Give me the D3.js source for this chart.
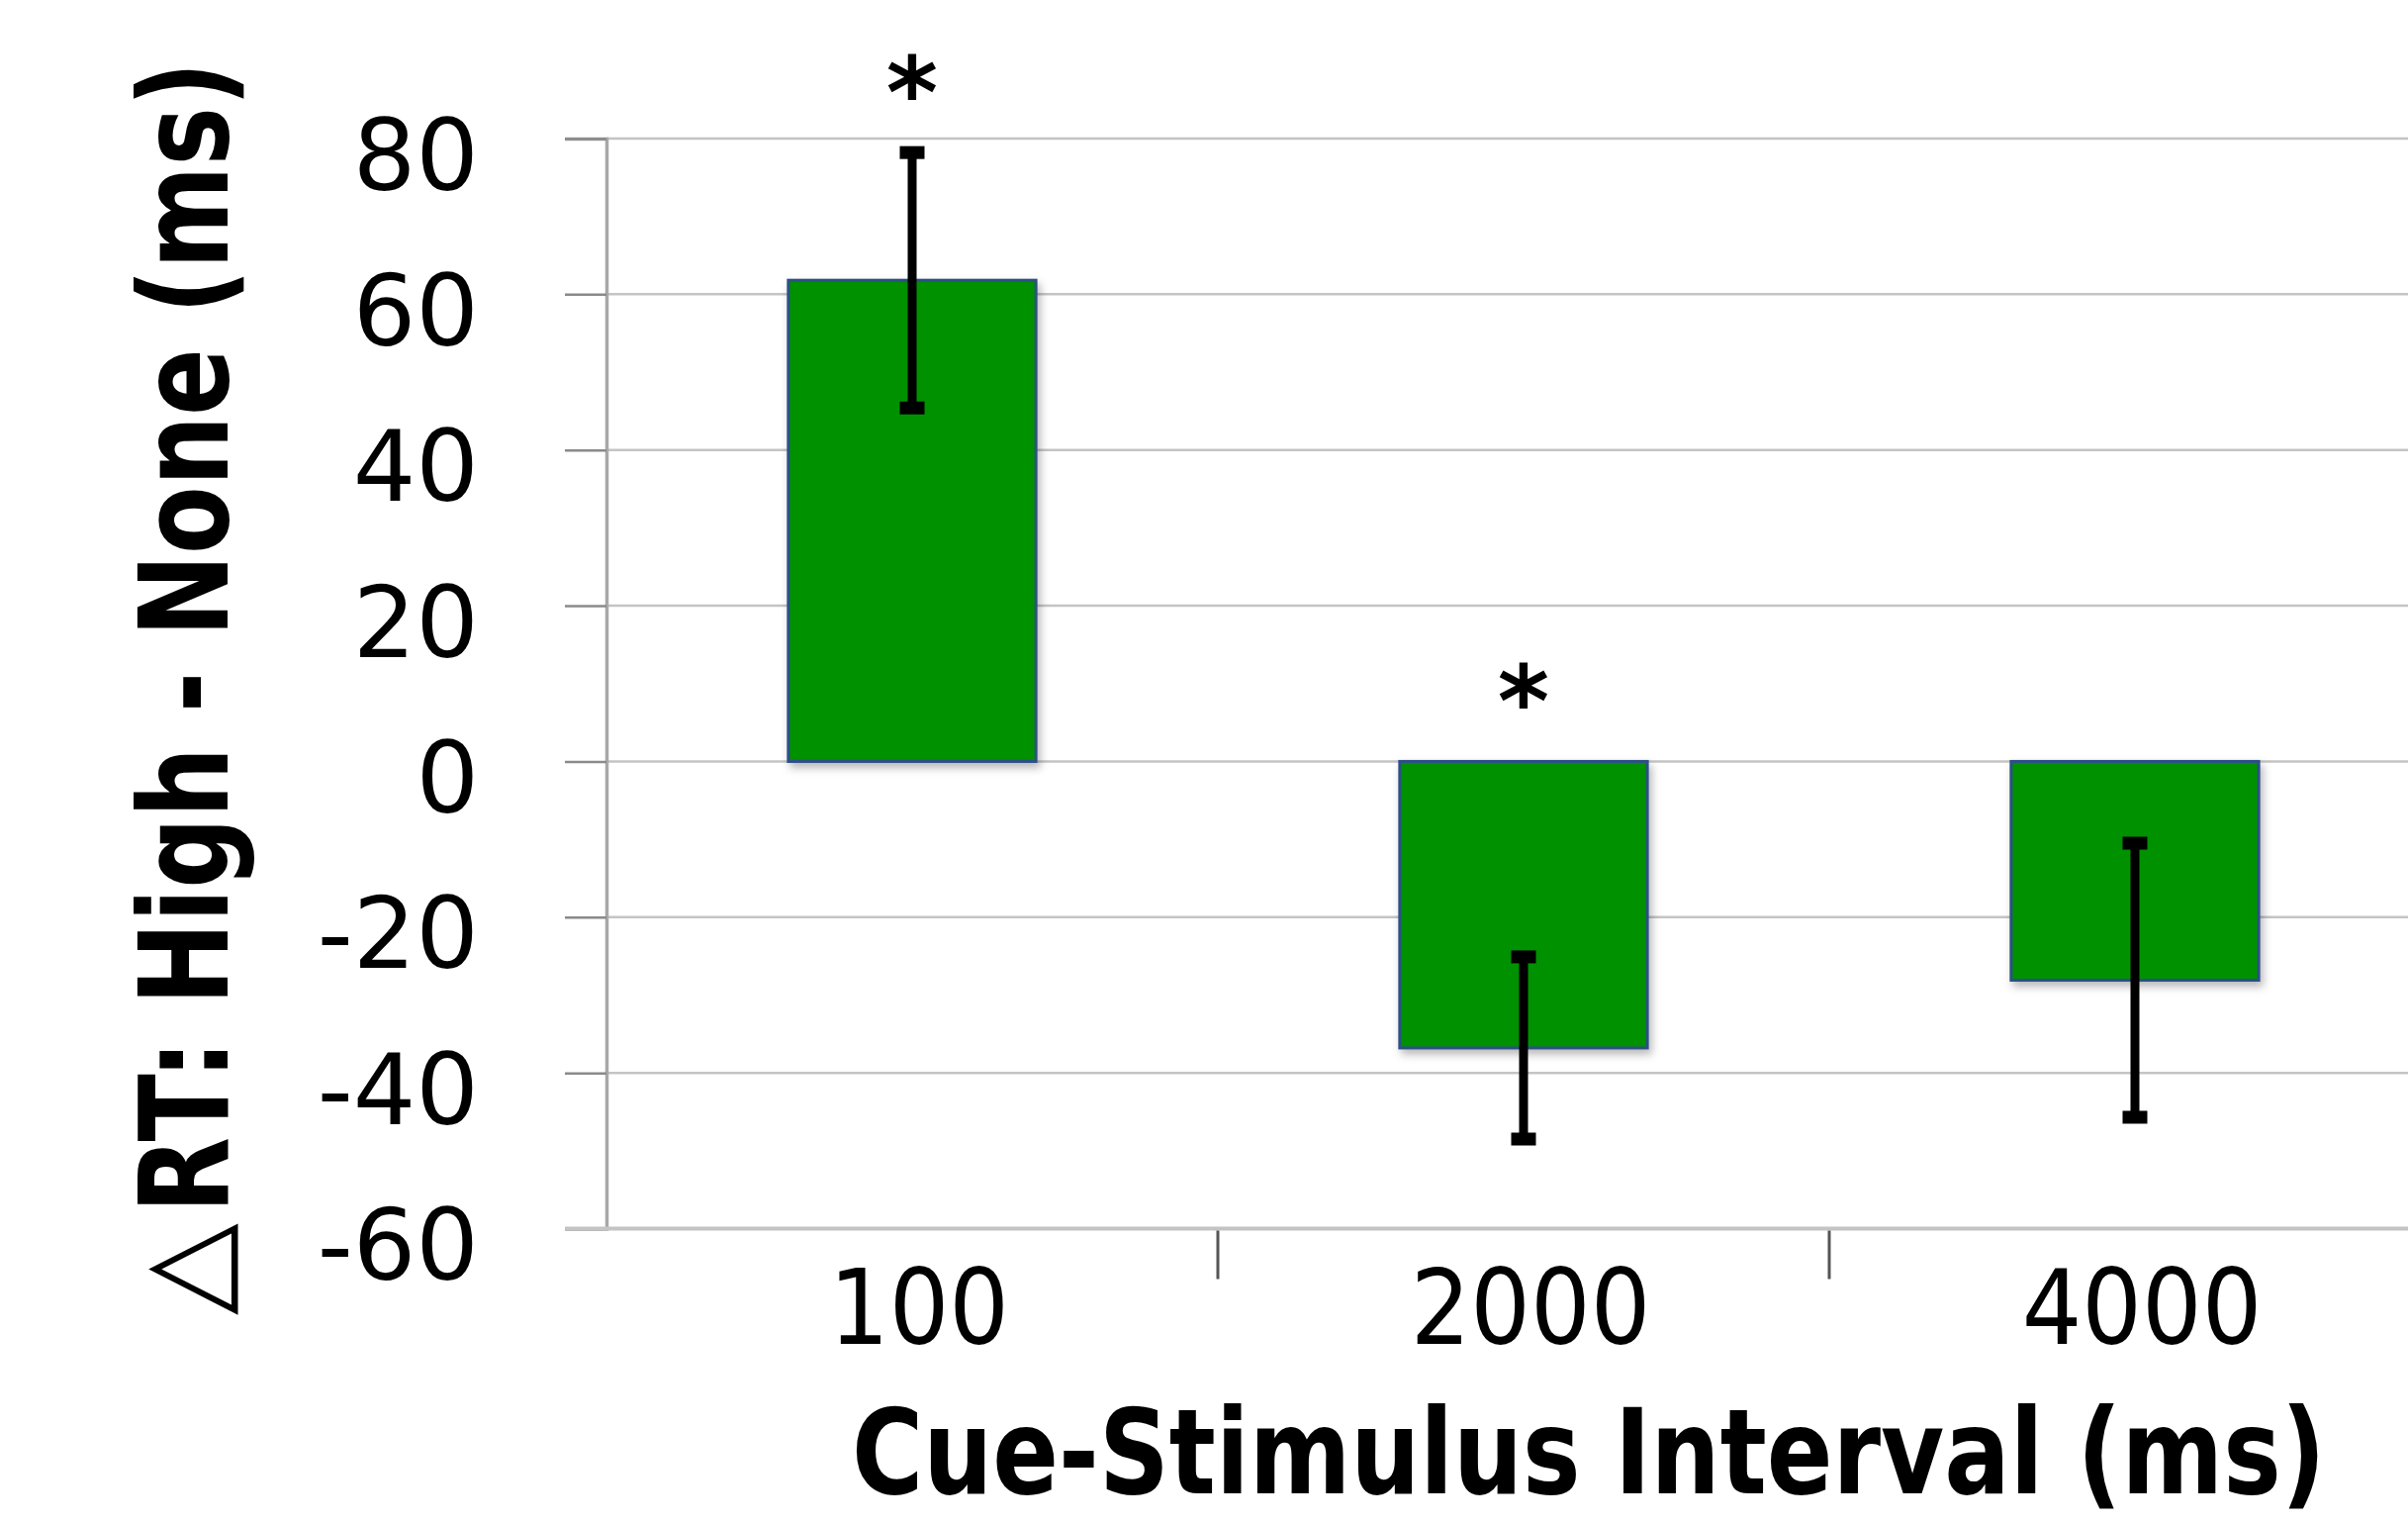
<!DOCTYPE html>
<html><head><meta charset="utf-8">
<script src="https://cdn.jsdelivr.net/npm/d3@7"></script>
<style>body{margin:0;background:#fff}</style>
</head><body>
<svg id="chart" width="2434" height="1539"></svg>
<script>
const categories = ["100", "2000", "4000"];
const means = [61.8, -36.8, -28.1];
const errors = [16.4, 11.7, 17.6];
const significant = [true, true, false];
const yTicks = [80, 60, 40, 20, 0, -20, -40, -60];
const xTitle = "Cue-Stimulus Interval (ms)";
const yTitleSymbol = "\u25B3";
const yTitle = "RT:  High - None (ms)";

const data = categories.map((c, i) => ({cat: c, mean: means[i], err: errors[i], sig: significant[i]}));

const W = 2434, H = 1539;
const svg = d3.select("#chart");
svg.append("rect").attr("width", W).attr("height", H).attr("fill", "#fff");
const defs = svg.append("defs");
const f = defs.append("filter").attr("id", "shadow")
  .attr("x", "-10%").attr("y", "-10%").attr("width", "130%").attr("height", "130%");
f.append("feDropShadow").attr("dx", 3).attr("dy", 5).attr("stdDeviation", 4)
  .attr("flood-color", "#000").attr("flood-opacity", 0.28);

const plotLeft = 613, plotTop = 140, plotBottom = 1241.5;
const y = d3.scaleLinear().domain([-60, 80]).range([plotBottom, plotTop]);
const x = d3.scaleBand().domain(categories).range([plotLeft, plotLeft + 618 * 3]).padding(0);
const barW = x.bandwidth() * 0.405;
const cx = d => x(d) + x.bandwidth() / 2;

// gridlines
svg.append("g").selectAll("line").data(yTicks.filter(d => d !== -60)).join("line")
  .attr("x1", plotLeft).attr("x2", W)
  .attr("y1", d => y(d)).attr("y2", d => y(d))
  .attr("stroke", "#c4c4c4").attr("stroke-width", 2.5);

// y axis
const yAxis = svg.append("g").attr("transform", `translate(${plotLeft},0)`)
  .call(d3.axisLeft(y).tickValues(yTicks).tickSize(42).tickPadding(87).tickFormat(d => String(d)));
yAxis.select(".domain").attr("stroke", "#a8a8a8").attr("stroke-width", 3.5);
yAxis.selectAll(".tick line").attr("stroke", "#8a8a8a").attr("stroke-width", 2.5);
yAxis.selectAll(".tick text")
  .attr("font-family", "'DejaVu Sans', sans-serif").attr("font-size", 100)
  .attr("fill", "#000").attr("dy", "0.51em");

// x axis line
svg.append("line").attr("x1", 571).attr("x2", W).attr("y1", y(-60)).attr("y2", y(-60))
  .attr("stroke", "#c4c4c4").attr("stroke-width", 4);
// x category separators
svg.append("g").selectAll("line").data(categories.slice(1)).join("line")
  .attr("x1", d => x(d)).attr("x2", d => x(d))
  .attr("y1", y(-60) + 2).attr("y2", y(-60) + 51)
  .attr("stroke", "#555").attr("stroke-width", 3);
// x labels
svg.append("g").selectAll("text").data(categories).join("text")
  .attr("x", d => cx(d) + 7).attr("y", 1358)
  .attr("text-anchor", "middle")
  .attr("font-family", "'DejaVu Sans Condensed', 'DejaVu Sans', sans-serif")
  .attr("font-stretch", "condensed")
  .attr("font-size", 106).attr("fill", "#000")
  .text(d => d);

// bars
svg.append("g").selectAll("rect").data(data).join("rect")
  .attr("x", d => cx(d.cat) - barW / 2)
  .attr("y", d => y(Math.max(0, d.mean)))
  .attr("width", barW)
  .attr("height", d => Math.abs(y(d.mean) - y(0)))
  .attr("fill", "#009100").attr("stroke", "#2d4f86").attr("stroke-width", 3)
  .attr("filter", "url(#shadow)");

// error bars
const eb = svg.append("g").selectAll("g").data(data).join("g");
eb.append("line")
  .attr("x1", d => cx(d.cat)).attr("x2", d => cx(d.cat))
  .attr("y1", d => y(d.mean + d.err)).attr("y2", d => y(d.mean - d.err))
  .attr("stroke", "#000").attr("stroke-width", 9);
eb.selectAll("rect").data(d => [{c: d.cat, v: d.mean + d.err}, {c: d.cat, v: d.mean - d.err}]).join("rect")
  .attr("x", d => cx(d.c) - 12.5).attr("y", d => y(d.v) - 6.5)
  .attr("width", 25).attr("height", 13).attr("fill", "#000");

// significance asterisks
svg.append("g").selectAll("text").data(data.filter(d => d.sig)).join("text")
  .attr("x", d => cx(d.cat)).attr("y", d => y(Math.max(0, d.mean + d.err)) - 25)
  .attr("text-anchor", "middle")
  .attr("font-family", "'DejaVu Sans', sans-serif").attr("font-weight", "bold")
  .attr("font-size", 100).attr("fill", "#000")
  .text("*");

// helper: fit a text to a target length by horizontal scaling
function fitText(sel, targetLen, baseTransform) {
  const natural = sel.node().getComputedTextLength();
  const k = targetLen / natural;
  sel.attr("transform", `${baseTransform} scale(${k},1)`);
}

// x title
const xt = svg.append("text")
  .attr("x", 0).attr("y", 0).attr("text-anchor", "start")
  .attr("font-family", "'DejaVu Sans Condensed', 'DejaVu Sans', sans-serif")
  .attr("font-stretch", "condensed").attr("font-weight", "bold")
  .attr("font-size", 119).attr("fill", "#000")
  .text(xTitle);
fitText(xt, 1490, "translate(861,1509)");

// y title
const ys = svg.append("text")
  .attr("x", 0).attr("y", 0)
  .attr("font-family", "'DejaVu Sans', sans-serif").attr("font-weight", "normal")
  .attr("font-size", 118).attr("fill", "#000")
  .text(yTitleSymbol);
fitText(ys, 93, "translate(226,1329) rotate(-90)");
const yt = svg.append("text")
  .attr("x", 0).attr("y", 0)
  .attr("font-family", "'DejaVu Sans', sans-serif").attr("font-weight", "bold")
  .attr("font-size", 124).attr("fill", "#000")
  .text(yTitle);
fitText(yt, 1164, "translate(230,1226) rotate(-90)");
</script>
</body></html>
